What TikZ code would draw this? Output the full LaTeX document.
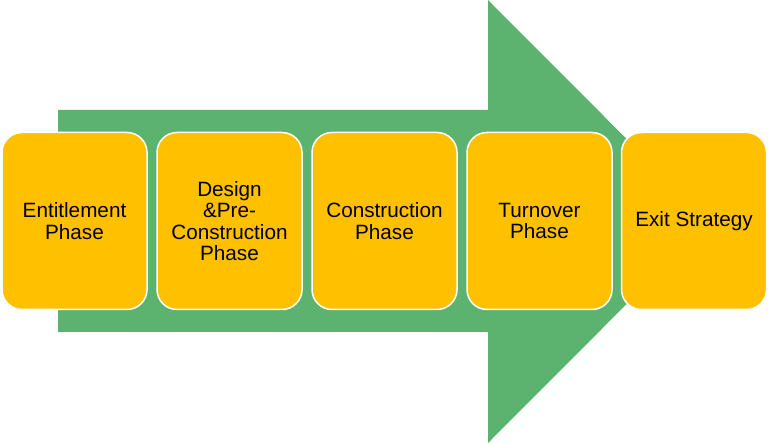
\documentclass[tikz,border=0pt]{standalone}
\usepackage{fontspec}
\setmainfont{Liberation Sans}
\usetikzlibrary{positioning}
\definecolor{arrowgreen}{HTML}{5CB370}
\definecolor{phaseyellow}{HTML}{FFC000}
\tikzset{
  phasebox/.style={draw=white, line width=1.5pt, fill=phaseyellow, rounded corners=20pt,
    minimum width=145pt, minimum height=177pt, align=center, inner sep=2pt,
    font=\fontsize{20.7}{21.5}\selectfont},
  bigarrow/.style={fill=arrowgreen, draw=none}
}

\begin{document}
\begin{tikzpicture}[x=1pt, y=-1pt]
  \useasboundingbox (0,0) rectangle (768,443);
  % the green arrow behind the phases
  \fill[bigarrow] (58,110) -- (488,110) -- (488,0) -- (709,221.5) -- (488,443)
    -- (488,332) -- (58,332) -- cycle;

  \node[phasebox] (entitle) at (74.5,221) {Entitlement\\Phase};
  \node[phasebox] (design) at (229.5,221) {Design\\\&Pre-\\Construction\\Phase};
  \node[phasebox] (constr) at (384.5,221) {Construction\\Phase};
  \node[phasebox] (turnover) at (539.5,221) {Turnover\\Phase};
  \node[phasebox] (exit) at (694,221) {Exit Strategy};
\end{tikzpicture}
\end{document}
